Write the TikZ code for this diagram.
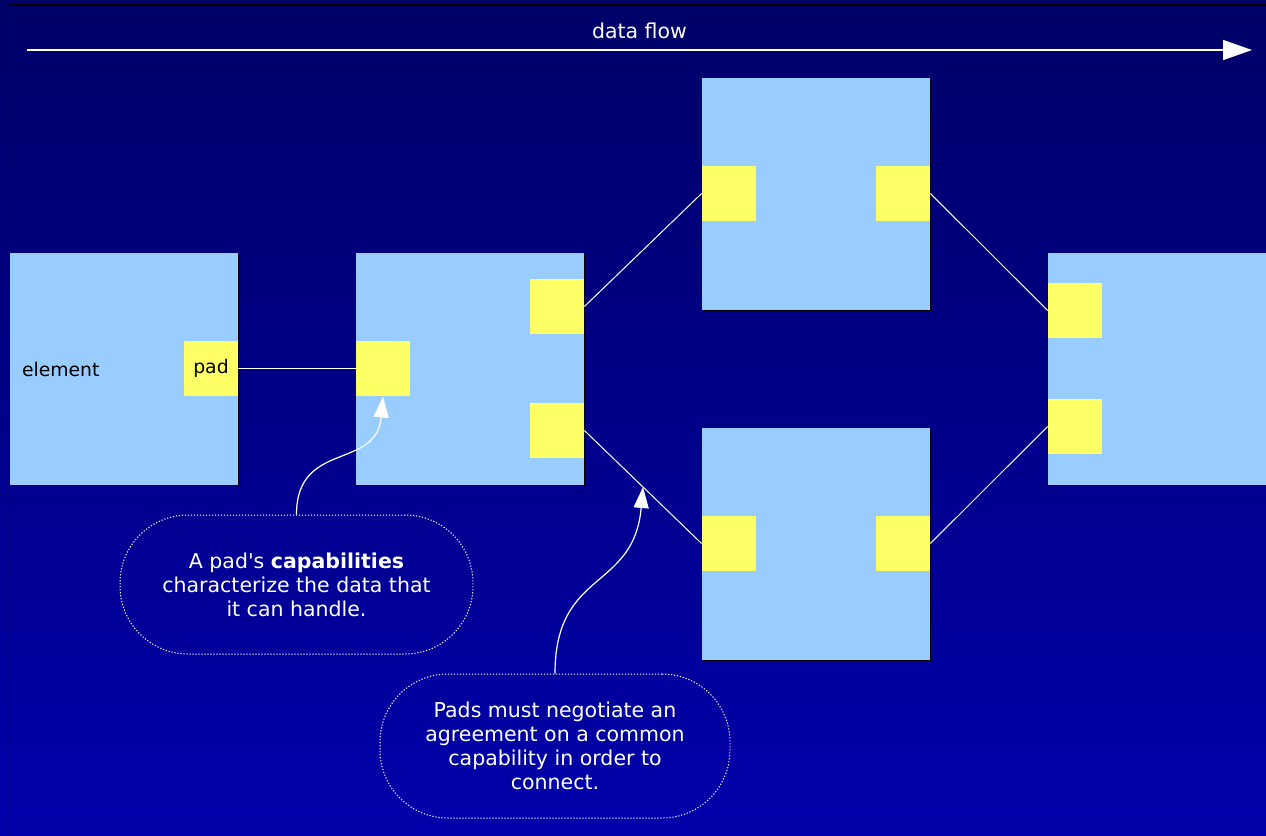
\documentclass[tikz,border=0pt]{standalone}
\usepackage{fontspec}
\setmainfont{DejaVu Sans}[Ligatures=TeXOff]
\usetikzlibrary{shadows,arrows.meta}
\definecolor{bgtop}{RGB}{0,0,104}
\definecolor{bgbottom}{RGB}{0,0,170}
\definecolor{elemblue}{RGB}{153,204,255}
\definecolor{padyellow}{RGB}{255,255,102}

\begin{document}
\begin{tikzpicture}[x=0.5pt, y=-0.5pt, font=\fontsize{10.25pt}{12pt}\selectfont]
			\tikzstyle{element} = [rectangle, minimum width=114pt, minimum height=116pt, inner sep=0pt, fill=elemblue, drop shadow={shadow xshift=0.6pt, shadow yshift=-0.6pt, opacity=1, fill=black}]
			\tikzstyle{pad}     = [rectangle, minimum width=27pt, minimum height=27.5pt, inner sep=0pt, fill=padyellow, text=black, font=\fontsize{9.4pt}{11pt}\selectfont]
			\tikzstyle{link}    = [white, line width=0.5pt]
			\tikzstyle{note}    = [rectangle, rounded corners=34pt, draw=white, line width=0.5pt, dash pattern=on 0.6pt off 0.9pt, text=white, align=center, inner sep=0pt]
			\tikzstyle{pointer} = [white, line width=0.6pt, -{Triangle[width=7.5pt, length=10.5pt]}]

%			\draw[step=50, gray!50] (0,0) grid (1266,836);

			\useasboundingbox (0,0) rectangle (1266,836);
			\clip (0,0) rectangle (1266,836);
			\fill[top color=bgtop, bottom color=bgbottom] (0,0) rectangle (1266,836);
			\draw[black, line width=0.6pt] (9.5,5) rectangle (1300,900);

			\coordinate (flowstart) at (27,50);
			\coordinate (flowend) at (1252,50);
			\draw[white, line width=0.75pt, -{Triangle[width=10pt, length=14.5pt]}] (flowstart) -- (flowend)
				node[midway, yshift=9.5pt, text=white] (flowlabel) {data flow};

			\foreach \name/\x/\y in {e1/124/369, e2/470/369, e3/816/194, e4/816/544, e5/1162/369}
				\node[element] (\name) at (\x, \y) {};

			\node[anchor=west, inner sep=0pt, text=black, font=\fontsize{9.4pt}{11pt}\selectfont] (elabel) at ([xshift=6pt]e1.west) {element};

			\node[pad] (p1) at (211, 368.5) {pad};
			\foreach \name/\x/\y in {p2in/383/368.5, p2a/557/306.5, p2b/557/430.5, p3in/729/193.5, p3out/903/193.5,
				p4in/729/543.5, p4out/903/543.5, p5a/1075/310.5, p5b/1075/426.5}
				\node[pad] (\name) at (\x, \y) {};

			\foreach \from/\to in {p1/p2in, p2a/p3in, p3out/p5a, p4out/p5b}
				\draw[link] (\from.east) -- (\to.west);
			\draw[link] (p2b.east) -- coordinate[pos=0.5] (meet) (p4in.west);

			\node[note, minimum width=176.5pt, minimum height=69.5pt] (capnote) at (296.5, 584.5)
				{A pad's \textbf{capabilities}\\characterize the data that\\it can handle.};
			\node[note, minimum width=175pt, minimum height=72pt] (negnote) at (555, 746)
				{Pads must negotiate an\\agreement on a common\\capability in order to\\connect.};

			\draw[pointer] (capnote.north) to[out=90, in=-95, looseness=1.3] (p2in.south);
			\draw[pointer] (negnote.north) to[out=90, in=-95, looseness=1.3] (meet);

		\end{tikzpicture}
\end{document}
